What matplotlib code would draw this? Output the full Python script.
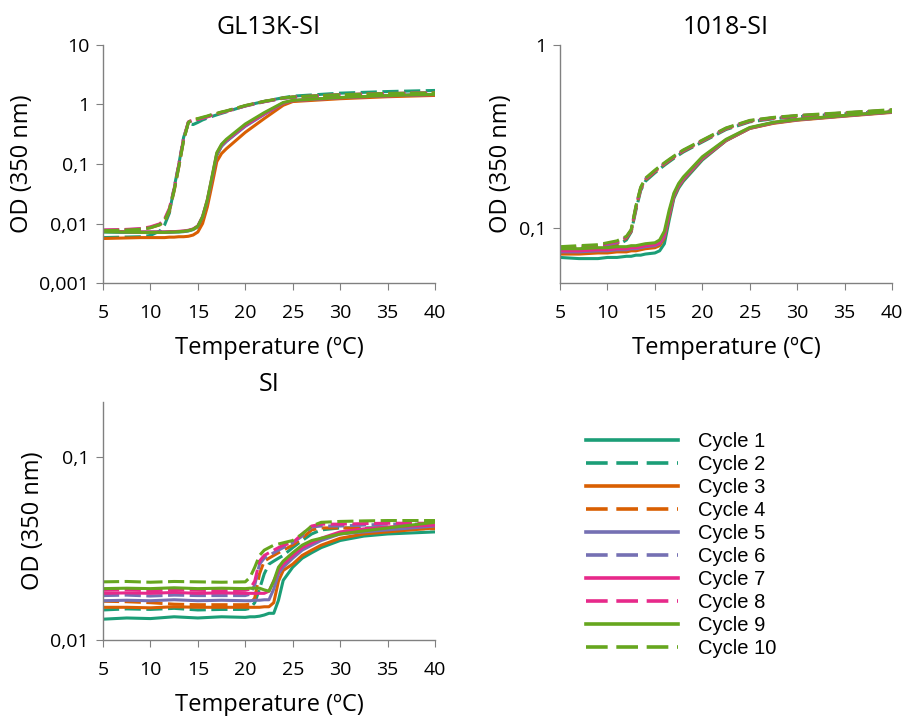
import matplotlib
matplotlib.use('Agg')
import matplotlib.pyplot as plt
from matplotlib.lines import Line2D
from matplotlib.ticker import FixedLocator, NullLocator

plt.rcParams['font.family'] = ['Open Sans', 'DejaVu Sans']

# Ciclos e cores (Dark2)
ciclos = ['Cycle %d' % i for i in range(1, 11)]
cores = ['#1b9e77', '#1b9e77', '#d95f02', '#d95f02', '#7570b3',
         '#7570b3', '#e7298a', '#e7298a', '#66a61e', '#66a61e']

# ---- GL13K-SI ----
temp_gl = [5, 7, 9, 10, 11, 11.5, 12, 12.5, 13, 13.5, 14, 14.5, 15, 15.5,
           16, 16.5, 17, 17.5, 18, 20, 22, 24, 25, 30, 35, 40]
gl_c1 = [0.0072, 0.0071, 0.0071, 0.0071, 0.0071, 0.0071, 0.0071, 0.0072, 0.0072, 0.0073, 0.0075, 0.0079, 0.0088,
         0.012, 0.023, 0.055, 0.14, 0.2, 0.24, 0.44, 0.7, 1.05, 1.15, 1.3, 1.4, 1.46]
gl_c2 = [0.0058, 0.0059, 0.006, 0.0063, 0.0075, 0.0095, 0.015, 0.04, 0.1, 0.28, 0.48, 0.46, 0.5,
         0.55, 0.59, 0.63, 0.67, 0.71, 0.75, 0.95, 1.13, 1.3, 1.38, 1.55, 1.65, 1.72]
gl_c3 = [0.0056, 0.0057, 0.0058, 0.0058, 0.0058, 0.0058, 0.0059, 0.0059, 0.006, 0.006, 0.0061, 0.0064, 0.0072,
         0.010, 0.019, 0.045, 0.11, 0.15, 0.18, 0.34, 0.58, 0.97, 1.12, 1.25, 1.35, 1.42]
gl_c4 = [0.0076, 0.0077, 0.008, 0.0085, 0.0095, 0.011, 0.016, 0.035, 0.09, 0.25, 0.5, 0.56, 0.57,
         0.6, 0.63, 0.67, 0.7, 0.74, 0.77, 0.95, 1.12, 1.28, 1.33, 1.45, 1.52, 1.56]
gl_c5 = [0.0074, 0.0073, 0.0072, 0.0072, 0.0072, 0.0072, 0.0072, 0.0073, 0.0073, 0.0074, 0.0076, 0.008, 0.009,
         0.013, 0.024, 0.058, 0.145, 0.2, 0.24, 0.43, 0.68, 1.05, 1.16, 1.3, 1.4, 1.47]
gl_c6 = [0.0077, 0.0078, 0.0081, 0.0086, 0.0097, 0.0115, 0.017, 0.037, 0.095, 0.26, 0.5, 0.55, 0.56,
         0.59, 0.62, 0.66, 0.7, 0.73, 0.77, 0.94, 1.11, 1.27, 1.32, 1.45, 1.52, 1.56]
gl_c7 = [0.0074, 0.0073, 0.0072, 0.0072, 0.0072, 0.0072, 0.0073, 0.0073, 0.0074, 0.0075, 0.0077, 0.0081, 0.0091,
         0.013, 0.025, 0.06, 0.15, 0.21, 0.25, 0.45, 0.7, 1.06, 1.16, 1.3, 1.4, 1.47]
gl_c8 = [0.0078, 0.0079, 0.0082, 0.0088, 0.0099, 0.012, 0.018, 0.038, 0.1, 0.27, 0.51, 0.55, 0.56,
         0.59, 0.62, 0.66, 0.7, 0.73, 0.77, 0.95, 1.12, 1.28, 1.33, 1.46, 1.53, 1.57]
gl_c9 = [0.0073, 0.0072, 0.0071, 0.0071, 0.0071, 0.0071, 0.0072, 0.0072, 0.0073, 0.0074, 0.0076, 0.008, 0.009,
         0.013, 0.025, 0.062, 0.155, 0.215, 0.26, 0.47, 0.73, 1.08, 1.17, 1.31, 1.41, 1.48]
gl_c10 = [0.0076, 0.0077, 0.008, 0.0085, 0.0096, 0.0112, 0.017, 0.036, 0.092, 0.25, 0.5, 0.56, 0.58,
          0.61, 0.64, 0.68, 0.71, 0.75, 0.78, 0.96, 1.13, 1.29, 1.34, 1.46, 1.53, 1.57]

# ---- 1018-SI ----
temp_1018 = [5, 7, 9, 10, 11, 12, 12.5, 13, 13.5, 14, 15, 15.5, 16, 16.5,
             17, 17.5, 18, 20, 22.5, 25, 27.5, 30, 35, 40]
p_c1 = [0.069, 0.068, 0.068, 0.069, 0.069, 0.07, 0.07, 0.071, 0.071, 0.072, 0.073, 0.075, 0.082, 0.11,
        0.145, 0.165, 0.18, 0.235, 0.3, 0.35, 0.375, 0.39, 0.41, 0.43]
p_c2 = [0.074, 0.074, 0.075, 0.077, 0.08, 0.086, 0.095, 0.125, 0.16, 0.18, 0.2, 0.21, 0.22, 0.23,
        0.24, 0.25, 0.26, 0.295, 0.345, 0.38, 0.395, 0.405, 0.42, 0.435]
p_c3 = [0.072, 0.072, 0.073, 0.073, 0.074, 0.074, 0.075, 0.075, 0.076, 0.077, 0.078, 0.08, 0.088, 0.115,
        0.148, 0.168, 0.183, 0.238, 0.3, 0.35, 0.373, 0.388, 0.408, 0.428]
p_c4 = [0.076, 0.077, 0.078, 0.08, 0.082, 0.088, 0.096, 0.128, 0.163, 0.183, 0.203, 0.213, 0.223, 0.233,
        0.243, 0.253, 0.263, 0.298, 0.348, 0.383, 0.398, 0.408, 0.423, 0.438]
p_c5 = [0.074, 0.074, 0.075, 0.075, 0.076, 0.076, 0.077, 0.077, 0.078, 0.079, 0.08, 0.082, 0.09, 0.118,
        0.15, 0.17, 0.185, 0.24, 0.302, 0.352, 0.376, 0.39, 0.41, 0.43]
p_c6 = [0.077, 0.078, 0.079, 0.081, 0.083, 0.089, 0.097, 0.13, 0.165, 0.185, 0.205, 0.215, 0.225, 0.235,
        0.245, 0.255, 0.265, 0.3, 0.35, 0.385, 0.4, 0.41, 0.425, 0.44]
p_c7 = [0.075, 0.075, 0.076, 0.076, 0.077, 0.077, 0.078, 0.078, 0.079, 0.08, 0.081, 0.083, 0.092, 0.12,
        0.152, 0.172, 0.187, 0.242, 0.303, 0.352, 0.377, 0.391, 0.411, 0.431]
p_c8 = [0.078, 0.079, 0.08, 0.082, 0.084, 0.089, 0.097, 0.13, 0.165, 0.185, 0.205, 0.215, 0.225, 0.235,
        0.245, 0.255, 0.265, 0.3, 0.35, 0.385, 0.4, 0.41, 0.425, 0.44]
p_c9 = [0.077, 0.077, 0.078, 0.078, 0.079, 0.079, 0.08, 0.08, 0.081, 0.082, 0.083, 0.086, 0.096, 0.125,
        0.155, 0.175, 0.19, 0.245, 0.305, 0.354, 0.378, 0.392, 0.412, 0.432]
p_c10 = [0.079, 0.08, 0.081, 0.083, 0.085, 0.09, 0.098, 0.132, 0.167, 0.187, 0.207, 0.217, 0.227, 0.237,
         0.247, 0.257, 0.267, 0.302, 0.352, 0.387, 0.402, 0.412, 0.427, 0.443]

# ---- SI ----
temp_si = [5, 7.5, 10, 12.5, 15, 17.5, 20, 20.5, 21, 21.5, 22, 22.5, 23, 23.5,
           24, 25, 26, 27, 28, 30, 32.5, 35, 37.5, 40]
si_c1 = [0.013, 0.0132, 0.0131, 0.0134, 0.0132, 0.0134, 0.0133, 0.0134, 0.0134, 0.0135, 0.0137, 0.014, 0.014, 0.0165,
         0.0212, 0.025, 0.028, 0.03, 0.032, 0.035, 0.037, 0.038, 0.0385, 0.039]
si_c2 = [0.0146, 0.0148, 0.0147, 0.0149, 0.0146, 0.0147, 0.0147, 0.0149, 0.016, 0.019, 0.023, 0.026, 0.027, 0.028,
         0.029, 0.032, 0.035, 0.038, 0.04, 0.041, 0.041, 0.0412, 0.0413, 0.0415]
si_c3 = [0.0151, 0.0151, 0.015, 0.0152, 0.0151, 0.0151, 0.0151, 0.0151, 0.0151, 0.0151, 0.0152, 0.0152, 0.016, 0.021,
         0.024, 0.026, 0.029, 0.031, 0.033, 0.036, 0.038, 0.039, 0.04, 0.041]
si_c4 = [0.0163, 0.0162, 0.016, 0.0157, 0.0156, 0.0156, 0.0156, 0.0157, 0.017, 0.023, 0.027, 0.028, 0.029, 0.03,
         0.031, 0.033, 0.036, 0.04, 0.041, 0.041, 0.0408, 0.0406, 0.0406, 0.0406]
si_c5 = [0.0164, 0.0165, 0.0164, 0.0166, 0.0164, 0.0165, 0.0164, 0.0164, 0.0165, 0.0165, 0.0166, 0.0166, 0.019, 0.023,
         0.025, 0.028, 0.031, 0.033, 0.035, 0.038, 0.039, 0.04, 0.041, 0.042]
si_c6 = [0.0175, 0.0176, 0.0174, 0.0176, 0.0175, 0.0175, 0.0175, 0.0178, 0.02, 0.026, 0.028, 0.029, 0.03, 0.031,
         0.032, 0.034, 0.037, 0.0415, 0.042, 0.042, 0.0425, 0.043, 0.043, 0.043]
si_c7 = [0.018, 0.0181, 0.018, 0.0182, 0.018, 0.0181, 0.018, 0.018, 0.018, 0.018, 0.018, 0.0185, 0.021, 0.024,
         0.026, 0.029, 0.032, 0.034, 0.036, 0.039, 0.0405, 0.0415, 0.042, 0.0425]
si_c8 = [0.0187, 0.0188, 0.0186, 0.0188, 0.0187, 0.0186, 0.0187, 0.019, 0.021, 0.027, 0.029, 0.03, 0.031, 0.032,
         0.033, 0.034, 0.038, 0.042, 0.043, 0.043, 0.0433, 0.0435, 0.0435, 0.0435]
si_c9 = [0.0191, 0.0192, 0.0191, 0.0193, 0.0191, 0.0192, 0.0191, 0.0192, 0.0192, 0.0192, 0.0188, 0.0185, 0.021, 0.025,
         0.027, 0.03, 0.033, 0.035, 0.036, 0.038, 0.0395, 0.041, 0.0425, 0.044]
si_c10 = [0.0208, 0.0209, 0.0207, 0.0209, 0.0208, 0.0207, 0.0208, 0.022, 0.025, 0.029, 0.031, 0.032, 0.033, 0.0335,
          0.034, 0.035, 0.038, 0.042, 0.044, 0.0445, 0.0448, 0.045, 0.045, 0.045]

paineis = [
    ('GL13K-SI', temp_gl, [gl_c1, gl_c2, gl_c3, gl_c4, gl_c5, gl_c6, gl_c7, gl_c8, gl_c9, gl_c10],
     (0.001, 10), [0.001, 0.01, 0.1, 1, 10], ['0,001', '0,01', '0,1', '1', '10']),
    ('1018-SI', temp_1018, [p_c1, p_c2, p_c3, p_c4, p_c5, p_c6, p_c7, p_c8, p_c9, p_c10],
     (0.05, 1), [0.1, 1], ['0,1', '1']),
    ('SI', temp_si, [si_c1, si_c2, si_c3, si_c4, si_c5, si_c6, si_c7, si_c8, si_c9, si_c10],
     (0.01, 0.2), [0.01, 0.1], ['0,01', '0,1']),
]
posicoes = [[0.1139, 0.6047, 0.3673, 0.3325],
            [0.6195, 0.6047, 0.3673, 0.3325],
            [0.1139, 0.1061, 0.3673, 0.3324]]

fig = plt.figure(figsize=(9.04, 7.16), dpi=100)

for (titulo, temp, series, ylim, yt, ytl), pos in zip(paineis, posicoes):
    ax = fig.add_axes(pos)
    for i, y in enumerate(series):
        if i % 2 == 0:
            ax.plot(temp, y, color=cores[i], lw=2.2, solid_joinstyle='round')
        else:
            ax.plot(temp, y, color=cores[i], lw=2.2, dashes=(5.3, 1.8))
    ax.set_yscale('log')
    ax.set_ylim(*ylim)
    ax.set_xlim(5, 40)
    ax.yaxis.set_major_locator(FixedLocator(yt))
    ax.set_yticklabels(ytl)
    ax.yaxis.set_minor_locator(NullLocator())
    ax.set_xticks(range(5, 41, 5))
    for s in ['top', 'right']:
        ax.spines[s].set_visible(False)
    for s in ['left', 'bottom']:
        ax.spines[s].set_color('#808080')
        ax.spines[s].set_linewidth(1)
    ax.tick_params(direction='out', length=5, color='#808080', labelsize=14)
    ax.tick_params(axis='x', pad=10)
    ax.tick_params(axis='y', pad=5)
    ax.set_title(titulo, fontsize=18, pad=8)
    ax.set_xlabel('Temperature (ºC)', fontsize=17, labelpad=10)
    ax.set_ylabel('OD (350 nm)', fontsize=17, labelpad=4)

# Legenda
alcas = []
for i in range(10):
    if i % 2 == 0:
        alcas.append(Line2D([], [], color=cores[i], lw=2.6))
    else:
        alcas.append(Line2D([], [], color=cores[i], lw=2.6, dashes=(6, 2.4)))
fig.legend(alcas, ciclos, loc='upper left', bbox_to_anchor=(0.628, 0.422),
           frameon=False, handlelength=4.6, handletextpad=0.95, labelspacing=0.2,
           prop={'family': 'Liberation Sans', 'size': 14.5})

fig.savefig('out.png', dpi=100)
